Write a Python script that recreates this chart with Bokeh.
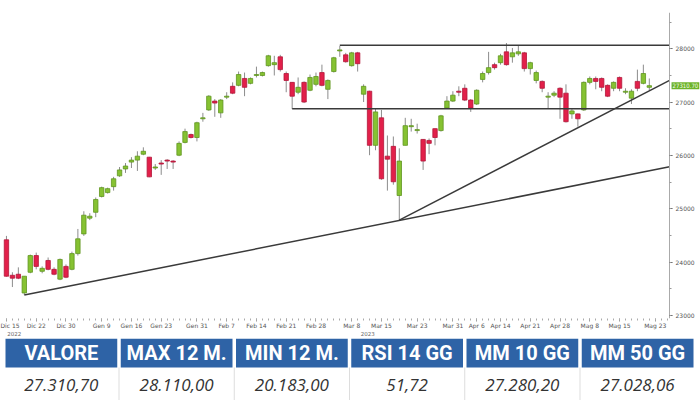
from bokeh.plotting import figure
from bokeh.models import FixedTicker, Label, Range1d, LinearAxis
from bokeh.layouts import column
from bokeh.embed import file_html
from bokeh.resources import INLINE
from bokeh.core.properties import value

# ---- candlestick data (one entry per trading day, Dic 15 2022 -> Mag 22 2023) ----
opens = [24421, 23756, 23775, 23424, 23812, 24125, 23830, 24033, 23867, 23683,
         23922, 23867, 24162, 24531, 24827, 24937, 25233, 25306, 25417, 25620,
         25749, 25878, 25915, 26026, 25970, 25767, 25860, 25915, 25897, 26007,
         26247, 26395, 26339, 26690, 26856, 27022, 26801, 27096, 27299, 27317,
         27446, 27354, 27502, 27502, 27686, 27705, 27852, 27539, 27373, 27188,
         27373, 27225, 27336, 27557, 27243, 27576, 27963, 27889, 27686, 27926,
         27151, 27207, 26192, 26708, 25989, 26173, 25251, 26192, 26542, 26469,
         26303, 26284, 26505, 26469, 26893, 27022, 27207, 27262, 27041, 26967,
         27428, 27557, 27705, 27742, 27945, 27852, 27908, 27926, 27631, 27409,
         27391, 27096, 27133, 27262, 27170, 26782, 26782, 26856, 27373, 27446,
         27446, 27317, 27262, 27465, 27188, 27077, 27391, 27354, 27280]
highs = [24494, 23812, 23904, 23738, 24144, 24181, 23922, 24089, 23904, 24070,
         23959, 24199, 24624, 24956, 24919, 25214, 25417, 25399, 25601, 25786,
         25860, 25970, 26081, 26155, 25975, 25841, 25915, 25933, 25915, 26266,
         26505, 26413, 26635, 26801, 27133, 27059, 27059, 27188, 27373, 27576,
         27557, 27465, 27668, 27576, 27889, 27871, 27889, 27576, 27380, 27465,
         27391, 27520, 27557, 27705, 27428, 27852, 28055, 27926, 27945, 27945,
         27336, 27215, 26874, 26856, 26376, 26358, 26136, 26708, 26690, 26598,
         26310, 26321, 26510, 26764, 27114, 27207, 27299, 27336, 27059, 27243,
         27576, 27945, 27742, 27908, 28110, 28018, 28055, 27945, 27760, 27594,
         27409, 27188, 27207, 27280, 27336, 26874, 26790, 27391, 27483, 27483,
         27465, 27336, 27391, 27483, 27262, 27243, 27612, 27705, 27446]
lows = [23730, 23535, 23683, 23387, 23793, 23867, 23793, 23849, 23756, 23664,
        23701, 23849, 24125, 24494, 24790, 24845, 25214, 25288, 25343, 25601,
        25675, 25767, 25712, 26007, 25595, 25731, 25638, 25749, 25749, 25989,
        26229, 26321, 26266, 26635, 26838, 26727, 26708, 27059, 27151, 27299,
        27114, 27336, 27465, 27483, 27668, 27502, 27576, 27188, 26874, 27151,
        26985, 27207, 27299, 27299, 27059, 27557, 27852, 27742, 27668, 27576,
        27004, 26007, 26100, 25546, 25343, 25454, 24790, 26192, 26450, 26413,
        25731, 26026, 26192, 26450, 26874, 27004, 27114, 27022, 26819, 26948,
        27373, 27520, 27612, 27705, 27686, 27742, 27871, 27576, 27520, 27354,
        27188, 26874, 27096, 26690, 26620, 26690, 26542, 26838, 27336, 27243,
        27207, 27096, 27207, 27207, 27151, 26967, 27207, 27336, 27225]
closes = [23738, 23701, 23701, 23738, 24125, 23922, 23886, 23867, 23775, 24052,
          23719, 24162, 24439, 24882, 24863, 25177, 25399, 25380, 25565, 25731,
          25804, 25915, 25989, 26081, 25601, 25786, 25841, 25897, 25878, 26229,
          26450, 26339, 26616, 26708, 27114, 26985, 27041, 27114, 27170, 27520,
          27280, 27446, 27520, 27557, 27871, 27742, 27612, 27409, 27114, 27280,
          27004, 27465, 27483, 27317, 27409, 27834, 27981, 27760, 27926, 27723,
          27299, 26192, 26819, 25565, 25933, 25509, 25897, 26561, 26561, 26487,
          25897, 26229, 26339, 26745, 27022, 27133, 27188, 27041, 26893, 27225,
          27539, 27649, 27649, 27871, 27705, 27926, 27945, 27631, 27742, 27557,
          27262, 27114, 27170, 27096, 26635, 26838, 26690, 27373, 27446, 27391,
          27280, 27114, 27373, 27262, 27207, 27207, 27262, 27539, 27311]

# ---- x axis labels (trading-day index -> label) ----
tick_idx = [0, 5, 10, 16, 21, 26, 32, 37, 42, 47, 52, 58, 63, 69, 75, 79, 83, 88, 93, 98, 103, 109]
tick_labels = ["Dic 15", "Dic 22", "Dic 30", "Gen 9", "Gen 16", "Gen 23", "Gen 31", "Feb 7",
               "Feb 14", "Feb 21", "Feb 28", "Mar 8", "Mar 15", "Mar 23", "Mar 31", "Apr 6",
               "Apr 14", "Apr 21", "Apr 28", "Mag 8", "Mag 15", "Mag 23"]
year_idx = [1.3, 60.7]
year_labels = ["2022", "2023"]

# ---- y axis ----
y_ticks = [23000, 24000, 25000, 26000, 27000, 28000]
y_minor = [22500, 23000, 23500, 24000, 24500, 25000, 25500, 26000, 26500, 27000, 27500, 28000, 28500]
last_value = 27310.70

# ---- drawn support / resistance lines (anchors) ----
trend_long_x = [3, 111.4]
trend_long_y = [23387, 25790]
trend_steep_x = [66, 111.4]
trend_steep_y = [24790, 27409]
resist_x = [56, 111.4]
resist_y = [28070, 28070]
support_x = [48, 111.4]
support_y = [26880, 26880]

# ---- table ----
headers = ["VALORE", "MAX 12 M.", "MIN 12 M.", "RSI 14 GG", "MM 10 GG", "MM 50 GG"]
values = ["27.310,70", "28.110,00", "20.183,00", "51,72", "27.280,20", "27.028,06"]

GREEN = "#86C232"
GREEN_LINE = "#5F9620"
RED = "#E2204A"
RED_LINE = "#B3163A"
BLUE = "#2E63A6"

W = 700
CH, TH = 338, 62
x_lo, x_axis_at, x_hi = -1.0, 111.4, 116.6
y_lo, y_hi = 22945, 28683

p = figure(width=W, height=CH, x_range=Range1d(x_lo, x_hi), y_range=Range1d(y_lo, y_hi),
           y_axis_location=None, toolbar_location=None, output_backend="svg",
           min_border_left=0, min_border_top=12, min_border_right=0, min_border_bottom=0)
p.outline_line_color = None
p.grid.visible = False
p.background_fill_color = "white"

idx = list(range(len(opens)))
up_x = [i for i in idx if closes[i] >= opens[i]]
dn_x = [i for i in idx if closes[i] < opens[i]]

p.segment(x0=idx, y0=lows, x1=idx, y1=highs, line_color="#8C8C8C", line_width=1)
p.vbar(x=up_x, width=0.74, top=[closes[i] for i in up_x], bottom=[opens[i] for i in up_x],
       fill_color=GREEN, line_color=GREEN_LINE, line_width=0.8)
p.vbar(x=dn_x, width=0.74, top=[opens[i] for i in dn_x], bottom=[closes[i] for i in dn_x],
       fill_color=RED, line_color=RED_LINE, line_width=0.8)

for lx, ly in [(trend_long_x, trend_long_y), (trend_steep_x, trend_steep_y),
               (resist_x, resist_y), (support_x, support_y)]:
    p.line(lx, ly, line_color="#3A3A3A", line_width=1.5)

# x axis (dates)
xa = p.xaxis[0]
xa.ticker = FixedTicker(ticks=tick_idx, minor_ticks=idx + [109, 110, 111])
xa.major_label_overrides = {t: l for t, l in zip(tick_idx, tick_labels)}
xa.major_label_text_font = "DejaVu Sans"
xa.major_label_text_font_size = "6px"
xa.major_label_text_color = "#555555"
xa.axis_line_color = None
xa.major_tick_line_color = "#999999"
xa.minor_tick_line_color = "#AAAAAA"
xa.major_tick_out = 3
xa.major_tick_in = 0
xa.minor_tick_out = 2
xa.minor_tick_in = 0
xa.major_label_standoff = 0

# year row: a second, line-less axis below the dates
xa2 = LinearAxis(ticker=FixedTicker(ticks=year_idx),
                 major_label_overrides={t: l for t, l in zip(year_idx, year_labels)},
                 axis_line_color=None, major_tick_line_color=None, minor_tick_line_color=None,
                 major_tick_out=0, major_tick_in=0, minor_tick_out=0, minor_tick_in=0,
                 major_label_standoff=-1, major_label_text_font="DejaVu Sans",
                 major_label_text_font_size="5.5px", major_label_text_color="#666666")
p.add_layout(xa2, "below")

# price axis on the right, drawn at the end of the candle area
ya = LinearAxis(ticker=FixedTicker(ticks=y_ticks, minor_ticks=y_minor), fixed_location=x_axis_at,
                major_label_text_font="DejaVu Sans", major_label_text_font_size="6px",
                major_label_text_color="#555555", axis_line_color="#AAAAAA",
                major_tick_line_color="#555555", minor_tick_line_color="#999999",
                major_tick_out=3, major_tick_in=0, minor_tick_out=2, minor_tick_in=0,
                major_label_standoff=3)
p.add_layout(ya, "right")

p.add_layout(Label(x=x_axis_at, y=last_value, x_offset=2, text="%.2f" % last_value,
                   text_align="left", text_baseline="middle",
                   text_font="DejaVu Sans Condensed", text_font_size="6px", text_color="#F4FBEA",
                   background_fill_color="#6DB32A", padding=1, level="overlay"))

# ---- table figure ----
t = figure(width=W, height=TH, x_range=Range1d(0, W), y_range=Range1d(0, TH),
           toolbar_location=None, output_backend="svg", x_axis_location=None, y_axis_location=None,
           min_border=0)
t.outline_line_color = None
t.grid.visible = False
tbl_left, tbl_right, gap = 5, 693, 3.5
cw = (tbl_right - tbl_left - gap * (len(headers) - 1)) / len(headers)
lefts = [tbl_left + k * (cw + gap) for k in range(len(headers))]
rights = [l + cw for l in lefts]
centers = [l + cw / 2 for l in lefts]
t.quad(left=lefts, right=rights, bottom=33, top=TH, fill_color=BLUE, line_color=None)
seps = [r + gap / 2 for r in rights[:-1]]
t.segment(x0=seps, y0=[0] * len(seps), x1=seps, y1=[33] * len(seps), line_color="#DDDDDD", line_width=1)
t.text(x=centers, y=[47.5] * 6, text=headers, text_align="center", text_baseline="middle",
       text_font=value("Roboto"), text_font_style="bold", text_font_size="20px", text_color="white")
t.text(x=centers, y=[15.5] * 6, text=values, text_align="center", text_baseline="middle",
       text_font=value("Open Sans"), text_font_style="italic", text_font_size="17px", text_color="#333333")

layout = column(p, t, spacing=0)
open("out.html", "w").write(file_html(layout, INLINE))
